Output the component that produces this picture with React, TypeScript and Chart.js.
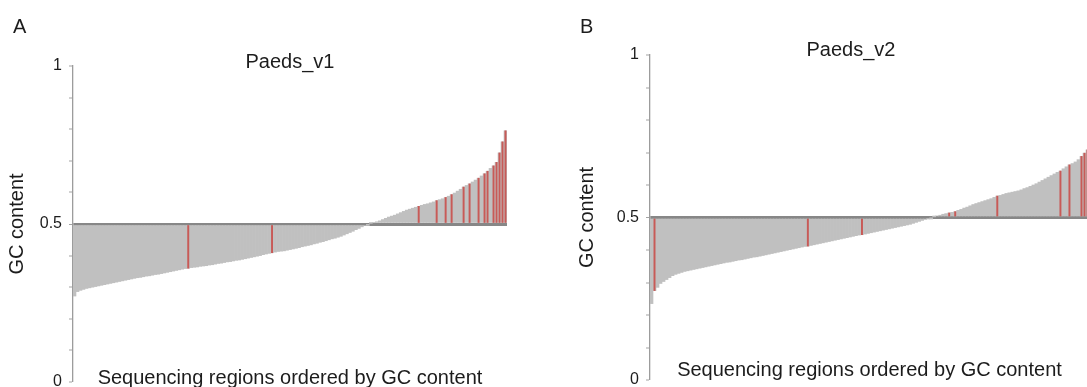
import React, { useEffect, useRef } from 'react';
import { Chart, registerables } from 'chart.js';

Chart.register(...registerables);

// ---------- data ----------
const panelLetters = ['A', 'B'];
const panelTitles = ['Paeds_v1', 'Paeds_v2'];
const yAxisTitle = 'GC content';
const xAxisTitle = 'Sequencing regions ordered by GC content';
const yTickValues = [0, 0.5, 1];
const yTickLabels = ['0', '0.5', '1'];
const baseline = 0.5;

// Panel A: GC content of sequencing regions, sorted ascending
const gcA = [
  0.272, 0.286, 0.290, 0.293, 0.296, 0.298, 0.300, 0.302, 0.304, 0.306,
  0.308, 0.310, 0.312, 0.314, 0.316, 0.318, 0.320, 0.322, 0.324, 0.326,
  0.328, 0.330, 0.331, 0.333, 0.335, 0.336, 0.338, 0.340, 0.341, 0.343,
  0.345, 0.347, 0.349, 0.351, 0.353, 0.355, 0.357, 0.359, 0.360, 0.362,
  0.363, 0.364, 0.366, 0.367, 0.368, 0.370, 0.371, 0.373, 0.375, 0.376,
  0.378, 0.380, 0.381, 0.383, 0.385, 0.386, 0.388, 0.390, 0.392, 0.394,
  0.396, 0.398, 0.400, 0.403, 0.405, 0.407, 0.409, 0.411, 0.413, 0.414,
  0.415, 0.417, 0.419, 0.421, 0.423, 0.425, 0.428, 0.430, 0.432, 0.434,
  0.437, 0.439, 0.442, 0.444, 0.447, 0.450, 0.453, 0.455, 0.458, 0.461,
  0.465, 0.469, 0.473, 0.477, 0.482, 0.486, 0.491, 0.495, 0.499, 0.502,
  0.504, 0.507, 0.510, 0.514, 0.518, 0.522, 0.525, 0.528, 0.532, 0.536,
  0.540, 0.544, 0.547, 0.550, 0.553, 0.556, 0.559, 0.562, 0.564, 0.567,
  0.570, 0.574, 0.577, 0.580, 0.584, 0.588, 0.593, 0.598, 0.604, 0.610,
  0.617, 0.622, 0.627, 0.633, 0.639, 0.645, 0.652, 0.659, 0.667, 0.676,
  0.684, 0.695, 0.725, 0.760, 0.795,
];
// indices of highlighted (red) regions in panel A
const redIdxA = [38, 66, 115, 121, 124, 126, 130, 132, 135, 137, 138, 140, 141, 142, 143, 144];

// Panel B
const gcB = [
  0.235, 0.275, 0.285, 0.297, 0.303, 0.309, 0.315, 0.321, 0.325, 0.328,
  0.331, 0.334, 0.336, 0.338, 0.340, 0.342, 0.344, 0.346, 0.348, 0.350,
  0.352, 0.354, 0.356, 0.358, 0.360, 0.362, 0.363, 0.365, 0.367, 0.369,
  0.370, 0.372, 0.374, 0.376, 0.378, 0.379, 0.381, 0.383, 0.385, 0.387,
  0.389, 0.391, 0.393, 0.395, 0.397, 0.399, 0.401, 0.403, 0.405, 0.407,
  0.409, 0.411, 0.412, 0.414, 0.416, 0.418, 0.420, 0.422, 0.424, 0.426,
  0.428, 0.430, 0.432, 0.434, 0.436, 0.438, 0.440, 0.442, 0.444, 0.446,
  0.447, 0.449, 0.451, 0.453, 0.455, 0.457, 0.459, 0.461, 0.463, 0.465,
  0.467, 0.469, 0.471, 0.473, 0.475, 0.477, 0.479, 0.482, 0.485, 0.488,
  0.491, 0.494, 0.497, 0.499, 0.502, 0.505, 0.507, 0.510, 0.512, 0.514,
  0.516, 0.518, 0.522, 0.525, 0.529, 0.532, 0.536, 0.540, 0.543, 0.546,
  0.549, 0.552, 0.555, 0.558, 0.562, 0.566, 0.568, 0.571, 0.574, 0.576,
  0.578, 0.580, 0.582, 0.585, 0.589, 0.592, 0.596, 0.600, 0.604, 0.609,
  0.614, 0.619, 0.624, 0.629, 0.634, 0.639, 0.643, 0.650, 0.656, 0.662,
  0.666, 0.671, 0.678, 0.688, 0.698, 0.708,
];
const redIdxB = [1, 52, 70, 99, 101, 115, 136, 139, 143, 144, 145];

// ---------- styles ----------
const FONT = "'Liberation Sans', Arial, Helvetica, sans-serif";
const GRAY = '#c0c0c0';
const RED = '#c85a57';
const LINE = '#878787';
const AXIS = '#9c9c9c';
const TEXT = '#1c1c1c';

type PanelCfg = {
  left: number;
  width: number;
  height: number;
  layoutPadding: { left: number; right: number; top: number; bottom: number };
  yWidth: number;
  yTitlePadTop: number;
  titleFull: boolean;
  titlePad: { top: number; bottom: number };
  xTitlePad: { top: number; bottom: number };
};

const cfgA: PanelCfg = {
  left: 0,
  width: 530,
  height: 400,
  layoutPadding: { left: 0, right: 23, top: 0, bottom: 0 },
  yWidth: 73,
  yTitlePadTop: 5.5,
  titleFull: false,
  titlePad: { top: 50.4, bottom: -8.4 },
  xTitlePad: { top: -16, bottom: 10 },
};

const cfgB: PanelCfg = {
  left: 540,
  width: 622,
  height: 400,
  layoutPadding: { left: 73, right: 73, top: 0, bottom: 0 },
  yWidth: 37,
  yTitlePadTop: -37.5,
  titleFull: true,
  titlePad: { top: 38.7, bottom: -7.7 },
  xTitlePad: { top: -21.3, bottom: 17.3 },
};

const near = (a: number, b: number) => Math.abs(a - b) < 1e-6;

function tickLabel(v: number): string {
  for (let i = 0; i < yTickValues.length; i++) {
    if (near(v, yTickValues[i])) return yTickLabels[i];
  }
  return '';
}

function Panel({ cfg, values, redIdx, title }: { cfg: PanelCfg; values: number[]; redIdx: number[]; title: string }) {
  const ref = useRef<HTMLCanvasElement>(null);

  useEffect(() => {
    if (!ref.current) return;
    const labels = values.map((_, i) => String(i + 1));
    const red = values.map((v, i) => (redIdx.includes(i) ? v : null));
    const chart = new Chart(ref.current, {
      type: 'bar',
      data: {
        labels,
        datasets: [
          {
            label: 'highlighted',
            data: red as any,
            backgroundColor: RED,
            base: baseline,
            grouped: false,
            barThickness: 1.3,
            borderWidth: 0,
            order: 0,
          } as any,
          {
            label: 'GC content',
            data: values,
            backgroundColor: GRAY,
            base: baseline,
            grouped: false,
            barPercentage: 1,
            categoryPercentage: 1,
            borderWidth: 0,
            order: 1,
          } as any,
        ],
      },
      options: {
        responsive: false,
        animation: false,
        layout: { padding: cfg.layoutPadding },
        plugins: {
          legend: { display: false },
          tooltip: { enabled: false },
          title: {
            display: true,
            text: title,
            fullSize: cfg.titleFull,
            color: TEXT,
            font: { family: FONT, size: 20, weight: 'normal' as any, lineHeight: 1.2 },
            padding: cfg.titlePad,
          },
        },
        scales: {
          x: {
            type: 'category',
            offset: true,
            grid: { display: false, drawTicks: false },
            border: { display: false },
            ticks: { display: false },
            title: {
              display: true,
              text: xAxisTitle,
              color: TEXT,
              font: { family: FONT, size: 20, lineHeight: 1.2 },
              padding: cfg.xTitlePad,
            },
          },
          y: {
            min: 0,
            max: 1,
            z: 1,
            afterFit: (scale: any) => {
              scale.width = cfg.yWidth;
            },
            ticks: {
              stepSize: 0.1,
              autoSkip: false,
              padding: 7,
              color: TEXT,
              font: { family: FONT, size: 16 },
              callback: (v: any) => tickLabel(Number(v)),
            },
            grid: {
              display: true,
              drawOnChartArea: true,
              drawTicks: true,
              tickLength: 4,
              tickWidth: 1,
              tickColor: '#a3a3a3',
              color: (c: any) => (c.tick && near(c.tick.value, baseline) ? LINE : 'rgba(0,0,0,0)'),
              lineWidth: (c: any) => (c.tick && near(c.tick.value, baseline) ? 3 : 0),
            },
            border: { display: true, color: AXIS, width: 1.3 },
            title: {
              display: true,
              text: yAxisTitle,
              color: TEXT,
              font: { family: FONT, size: 20, lineHeight: 1.2 },
              padding: { top: cfg.yTitlePadTop, bottom: 0 },
            },
          },
        },
      } as any,
    });
    return () => chart.destroy();
  }, []);

  return (
    <canvas
      ref={ref}
      width={cfg.width}
      height={cfg.height}
      style={{ position: 'absolute', left: cfg.left, top: 0, width: cfg.width, height: cfg.height, display: 'block' }}
    />
  );
}

export default function App() {
  const letterStyle: React.CSSProperties = {
    position: 'absolute',
    top: 14,
    fontFamily: FONT,
    fontSize: 20,
    lineHeight: '24px',
    color: TEXT,
  };
  return (
    <div
      style={{
        position: 'fixed',
        left: 0,
        top: 0,
        width: 1087,
        height: 387,
        overflow: 'hidden',
        background: '#ffffff',
      }}
    >
      <Panel cfg={cfgA} values={gcA} redIdx={redIdxA} title={panelTitles[0]} />
      <Panel cfg={cfgB} values={gcB} redIdx={redIdxB} title={panelTitles[1]} />
      <div style={{ ...letterStyle, left: 13 }}>{panelLetters[0]}</div>
      <div style={{ ...letterStyle, left: 580 }}>{panelLetters[1]}</div>
    </div>
  );
}
